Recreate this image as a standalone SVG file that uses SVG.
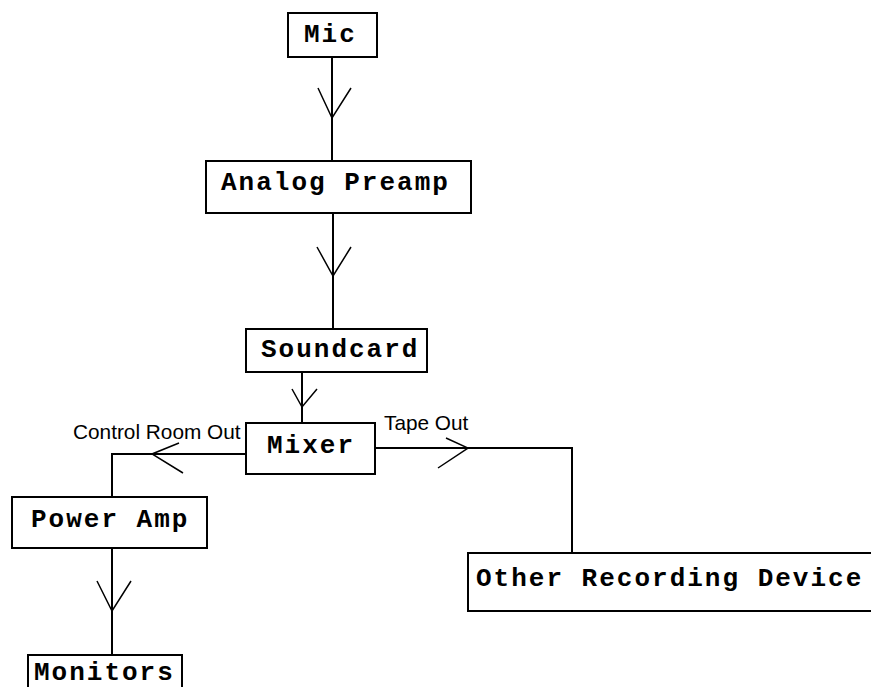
<svg xmlns="http://www.w3.org/2000/svg" width="871" height="687" viewBox="0 0 871 687">
<style>
.box{fill:#fff;stroke:#000;stroke-width:2}
.lbl{font-family:"Liberation Mono",monospace;font-weight:bold;font-size:26px;letter-spacing:2px;fill:#000}
.cl{font-family:"Liberation Sans",Arial,sans-serif;font-size:20.8px;fill:#000}
.ln{fill:none;stroke:#000;stroke-width:2}
.ah{fill:none;stroke:#000;stroke-width:1.5}
</style>
<rect width="871" height="687" fill="#fff"/>
<g id="connectors">
<path class="ln" d="M332,57 V161"/>
<path class="ah" d="M318,88 L332,118 L351,88"/>
<path class="ln" d="M333,213 V329"/>
<path class="ah" d="M317,247 L333,276 L351,247"/>
<path class="ln" d="M302,372 V423"/>
<path class="ah" d="M292,389 L302,407 L317,389"/>
<path class="ln" d="M246,454 H112 V497"/>
<path class="ah" d="M179,443 L152,454 L183,473"/>
<path class="ln" d="M375,448 H572 V553"/>
<path class="ah" d="M446,438 L468,448 L438,468"/>
<path class="ln" d="M112,548 V655"/>
<path class="ah" d="M97,581 L112,611 L131,581"/>
<text class="cl" x="73" y="439">Control Room Out</text>
<text class="cl" x="384" y="430">Tape Out</text>
</g>
<g id="mic"><rect class="box" x="288" y="13" width="89" height="44"/><text class="lbl" x="304" y="42">Mic</text></g>
<g id="preamp"><rect class="box" x="206" y="161" width="265" height="52"/><text class="lbl" x="221" y="190">Analog Preamp</text></g>
<g id="soundcard"><rect class="box" x="246" y="329" width="181" height="43"/><text class="lbl" x="261" y="357">Soundcard</text></g>
<g id="mixer"><rect class="box" x="246" y="423" width="129" height="51"/><text class="lbl" x="267" y="453">Mixer</text></g>
<g id="poweramp"><rect class="box" x="12" y="497" width="195" height="51"/><text class="lbl" x="31" y="527">Power Amp</text></g>
<g id="monitors"><rect class="box" x="28" y="655" width="154" height="50"/><text class="lbl" x="34" y="680">Monitors</text></g>
<g id="other"><rect class="box" x="468" y="553" width="420" height="58"/><text class="lbl" x="476" y="586">Other Recording Device</text></g>
</svg>
